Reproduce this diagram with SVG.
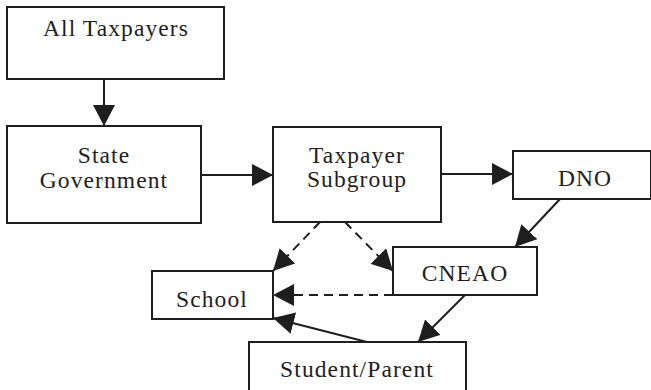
<svg xmlns="http://www.w3.org/2000/svg" width="651" height="390" viewBox="0 0 651 390">
<style>
.box{fill:#fff;stroke:#1e1e1e;stroke-width:2}
.lbl{font-family:"Liberation Serif","Times New Roman",serif;font-size:23.5px;letter-spacing:1.1px;fill:#1e1e1e;text-anchor:middle}
.ln{stroke:#1e1e1e;stroke-width:2;fill:none}
.dash{stroke-dasharray:9,6}
</style>
<defs>
<marker id="ah" markerUnits="userSpaceOnUse" markerWidth="21" markerHeight="22" refX="21" refY="11" orient="auto" viewBox="0 0 21 22">
<path d="M0,0 L21,11 L0,22 z" fill="#1e1e1e"/>
</marker>
</defs>
<rect width="651" height="390" fill="#fff"/>
<g id="all-taxpayers"><rect class="box" x="7" y="7" width="217" height="72"/><text class="lbl" x="116" y="36">All Taxpayers</text></g>
<g id="state-government"><rect class="box" x="7" y="126" width="194" height="97"/><text class="lbl" x="104" y="163">State</text><text class="lbl" x="104" y="188">Government</text></g>
<g id="taxpayer-subgroup"><rect class="box" x="273" y="127" width="168" height="95"/><text class="lbl" x="357" y="163">Taxpayer</text><text class="lbl" x="357" y="187">Subgroup</text></g>
<g id="dno"><rect class="box" x="513" y="151" width="138" height="48"/><text class="lbl" x="585" y="186">DNO</text></g>
<g id="cneao"><rect class="box" x="393" y="247" width="144" height="48"/><text class="lbl" x="465" y="281">CNEAO</text></g>
<g id="school"><rect class="box" x="152" y="271" width="121" height="48"/><text class="lbl" x="212" y="307">School</text></g>
<g id="student-parent"><rect class="box" x="249" y="342" width="217" height="60"/><text class="lbl" x="357" y="377">Student/Parent</text></g>
<g id="connectors">
<line class="ln" x1="104" y1="79" x2="104" y2="126" marker-end="url(#ah)"/>
<line class="ln" x1="201" y1="175" x2="273" y2="175" marker-end="url(#ah)"/>
<line class="ln" x1="441" y1="174" x2="513" y2="174" marker-end="url(#ah)"/>
<line class="ln" x1="560" y1="199" x2="515" y2="247" marker-end="url(#ah)"/>
<line class="ln dash" x1="320" y1="222" x2="273" y2="271" marker-end="url(#ah)"/>
<line class="ln dash" x1="345" y1="222" x2="393" y2="271" marker-end="url(#ah)"/>
<line class="ln dash" x1="393" y1="295" x2="273" y2="295" marker-end="url(#ah)"/>
<line class="ln" x1="367" y1="342" x2="273" y2="318" marker-end="url(#ah)"/>
<line class="ln" x1="465" y1="295" x2="418" y2="342" marker-end="url(#ah)"/>
</g>
</svg>
